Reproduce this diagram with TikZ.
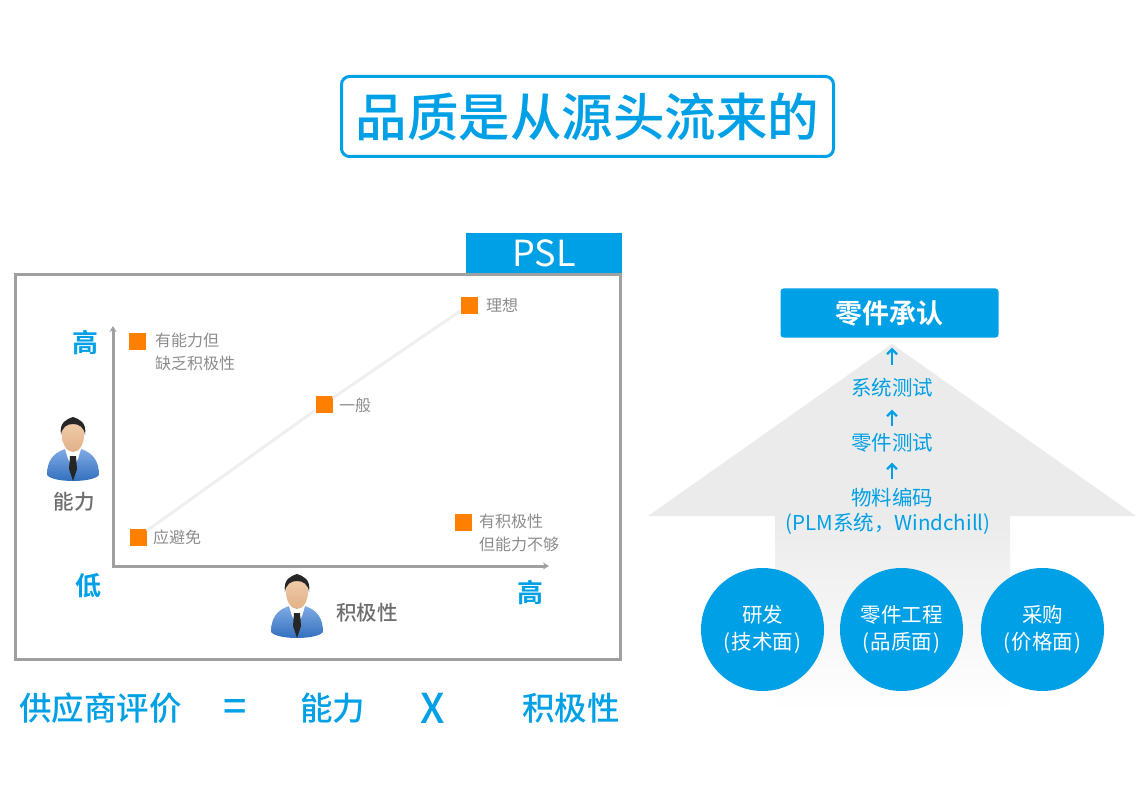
\documentclass[tikz,border=0pt]{standalone}
\usepackage{fontspec}
\setmainfont[BoldFont={Noto Sans CJK SC Medium}]{Noto Sans CJK SC}
\newfontfamily\heavyfont[BoldFont={Noto Sans CJK SC Bold}]{Noto Sans CJK SC}
\usetikzlibrary{arrows.meta}
\definecolor{psblue}{HTML}{00A0E6}
\definecolor{psgray}{HTML}{A0A0A0}
\definecolor{psorange}{HTML}{FF8000}
\definecolor{pstext}{HTML}{8C8C8C}
\definecolor{pshead}{HTML}{EBEBEB}
\definecolor{pslink}{HTML}{EFEFEF}
\definecolor{darkname}{HTML}{6E6E6E}
\definecolor{personlight}{HTML}{7FAAE4}
\definecolor{persondark}{HTML}{2E6CBC}
\definecolor{skinlight}{HTML}{F2D0AE}
\definecolor{skindark}{HTML}{E2B088}
\tikzset{
    frame/.style={draw=psgray, line width=2.5pt, inner sep=0pt},
    marker/.style={fill=psorange, minimum size=17pt, inner sep=0pt},
    note/.style={text=pstext, inner sep=0pt, align=left, font=\fontsize{16}{23}\selectfont},
    level/.style={text=psblue, inner sep=0pt, font=\fontsize{26}{30}\selectfont\heavyfont\bfseries},
    axisname/.style={text=darkname, inner sep=0pt, font=\fontsize{20.5}{24}\selectfont\bfseries},
    formula/.style={text=psblue, inner sep=0pt, font=\fontsize{32.5}{36}\selectfont\bfseries},
    operator/.style={text=psblue, inner sep=0pt, font=\fontsize{41}{44}\selectfont\bfseries},
    steptext/.style={text=psblue, inner sep=0pt, font=\fontsize{20.5}{26}\selectfont},
    dept/.style={circle, fill=psblue, text=white, minimum size=123pt, inner sep=0pt, align=center, font=\fontsize{20.5}{27}\selectfont},
    upflow/.style={draw=psblue, line width=2.2pt, -{Straight Barb[length=5pt,width=10pt]}},
    person/.pic={
        \shade[top color=personlight, bottom color=persondark]
            (-26,58) .. controls (-26,44) and (-20,36) .. (-8,32) -- (8,32)
            .. controls (20,36) and (26,44) .. (26,58)
            .. controls (20,66) and (-20,66) .. (-26,58) -- cycle;
        \fill[white] (-8,32) -- (8,32) -- (5,42) -- (0,50) -- (-5,42) -- cycle;
        \fill[black!85] (-3,39) -- (3,39) -- (4,52) -- (0,64) -- (-4,52) -- cycle;
        \shade[top color=skinlight, bottom color=skindark] (0,18) ellipse [x radius=11, y radius=17];
        \fill[black!85] (-12,18) .. controls (-14,5) and (-6,2) .. (0,0)
            .. controls (6,2) and (14,5) .. (12,18)
            .. controls (11,10) and (6,7) .. (0,7)
            .. controls (-6,7) and (-11,10) .. (-12,18) -- cycle;
    }
}
\begin{document}
\begin{tikzpicture}[x=1pt, y=-1pt]
    \useasboundingbox (0,0) rectangle (1148,810);

    % title
    \node[draw=psblue, line width=3pt, rounded corners=8pt, minimum width=492pt, minimum height=80pt, inner sep=0pt,
          text=psblue, font=\fontsize{51.5}{60}\selectfont\bfseries] (title) at (587.5,116.5) {\raisebox{-1pt}{品质是从源头流来的}};

    % left panel
    \node[frame, minimum width=605pt, minimum height=385pt] (panel) at (318,467) {};
    \node[fill=psblue, text=white, minimum width=156pt, minimum height=40pt, inner sep=0pt,
          font=\fontsize{36}{38}\selectfont] (psl) at (544,253) {PSL};

    \coordinate (ytop) at (113,326);
    \coordinate (origin) at (113,566);
    \coordinate (xend) at (549,566);
    \draw[psgray, line width=3pt, {Stealth[length=6pt,width=7pt]}-{Stealth[length=6pt,width=7pt]}] (ytop) -- (origin) -- (xend);

    \node[marker] (ideal) at (469,305) {};
    \node[marker] (normal) at (324,404) {};
    \node[marker] (avoid) at (138,537) {};
    \node[marker] (willing) at (137,341) {};
    \node[marker] (able) at (463,522) {};

    \draw[pslink, line width=3pt] (avoid) -- (normal);
    \draw[pslink, line width=3pt] (normal) -- (ideal);

    \node[note, anchor=west] (idealtext) at (486,305) {理想};
    \node[note, anchor=west] (normaltext) at (339,405) {一般};
    \node[note, anchor=west] (avoidtext) at (153,537) {应避免};
    \node[note, anchor=west] (willingtext) at (155,352) {有能力但\\缺乏积极性};
    \node[note, anchor=west] (abletext) at (479,533) {有积极性\\但能力不够};

    \node[level] (yhigh) at (85,343) {高};
    \node[level] (ylow) at (88,586) {低};
    \node[level] (xhigh) at (530,593) {高};

    \pic at (73,417) {person};
    \pic at (297,574) {person};
    \node[axisname] (ability) at (74,502) {能力};
    \node[axisname] (attitude) at (367,613) {积极性};

    % formula
    \node[formula] (supplier) at (100.5,708) {供应商评价};
    \node[operator] (equals) at (235,710) {=};
    \node[formula] (abilityf) at (332.5,708) {能力};
    \node[operator] (times) at (433,708) {X};
    \node[formula] (attitudef) at (571,708) {积极性};

    % right panel
    \coordinate (tip) at (892,344);
    \coordinate (headr) at (1136,516);
    \coordinate (headl) at (648,516);
    \fill[pshead] (tip) -- (headr) -- (headl) -- cycle;
    \shade[top color=pshead, bottom color=white] (775,516) rectangle (1010,712);

    \node[fill=psblue, text=white, rounded corners=3pt, minimum width=218pt, minimum height=49pt, inner sep=0pt,
          font=\fontsize{27}{30}\selectfont\heavyfont\bfseries] (approval) at (889.5,313) {零件承认};
    \node[steptext] (system) at (892,388) {系统测试};
    \node[steptext] (part) at (892,443) {零件测试};
    \node[steptext] (code) at (892,498) {物料编码};
    \node[steptext] (plm) at (888,524) {(PLM系统，Windchill)};

    \draw[upflow, shorten <=13pt, shorten >=10pt] (system.north) -- (system.north |- approval.south);
    \draw[upflow, shorten <=7pt, shorten >=12pt] (part) -- (system);
    \draw[upflow, shorten <=9pt, shorten >=10pt] (code) -- (part);

    \node[dept] (rd) at (762.5,629.5) {研发\\(\kern1.5pt技术面\kern1.5pt)};
    \node[dept] (eng) at (901.5,629.5) {零件工程\\(\kern1.5pt品质面\kern1.5pt)};
    \node[dept] (buy) at (1042.5,629.5) {采购\\(\kern1.5pt价格面\kern1.5pt)};
\end{tikzpicture}
\end{document}
